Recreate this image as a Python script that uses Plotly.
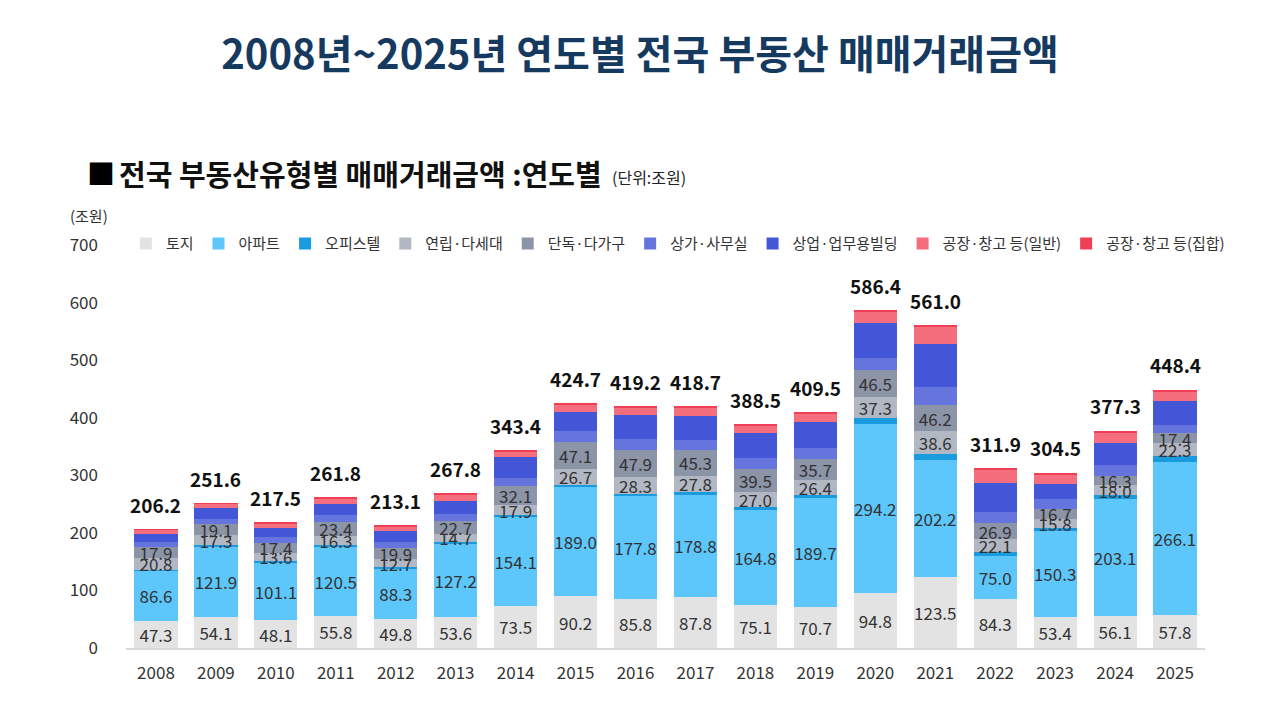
import plotly.graph_objects as go

years = [str(y) for y in range(2008, 2026)]

land = [47.3, 54.1, 48.1, 55.8, 49.8, 53.6, 73.5, 90.2, 85.8, 87.8, 75.1, 70.7, 94.8, 123.5, 84.3, 53.4, 56.1, 57.8]
apt = [86.6, 121.9, 101.1, 120.5, 88.3, 127.2, 154.1, 189.0, 177.8, 178.8, 164.8, 189.7, 294.2, 202.2, 75.0, 150.3, 203.1, 266.1]
officetel = [2.0, 2.5, 2.5, 2.8, 3.0, 3.0, 3.0, 4.6, 4.6, 4.6, 4.6, 5.5, 9.8, 12.0, 8.0, 5.0, 5.8, 9.3]
rowhouse = [20.8, 17.3, 13.6, 16.3, 12.7, 14.7, 17.9, 26.7, 28.3, 27.8, 27.0, 26.4, 37.3, 38.6, 22.1, 15.8, 18.0, 22.3]
detached = [17.9, 19.1, 17.4, 23.4, 19.9, 22.7, 32.1, 47.1, 47.9, 45.3, 39.5, 35.7, 46.5, 46.2, 26.9, 16.7, 16.3, 17.4]
shop = [10.0, 10.0, 10.0, 12.0, 11.0, 12.0, 15.0, 19.0, 18.5, 17.0, 19.5, 20.0, 20.5, 30.0, 20.8, 17.0, 18.5, 15.0]
building = [14.0, 18.0, 16.0, 20.0, 18.5, 22.0, 36.0, 34.0, 41.0, 42.0, 43.0, 45.0, 61.0, 76.0, 49.0, 26.0, 39.0, 40.5]
factory_gen = [6.5, 7.5, 7.5, 9.5, 8.5, 11.0, 10.0, 12.5, 13.5, 13.6, 13.2, 14.5, 20.0, 30.0, 23.5, 18.0, 18.0, 17.5]
factory_col = [1.1, 1.2, 1.3, 1.5, 1.4, 1.6, 1.8, 1.6, 1.8, 1.8, 1.8, 2.0, 2.3, 2.5, 2.3, 2.3, 2.5, 2.5]
totals = [206.2, 251.6, 217.5, 261.8, 213.1, 267.8, 343.4, 424.7, 419.2, 418.7, 388.5, 409.5, 586.4, 561.0, 311.9, 304.5, 377.3, 448.4]

series = [
    ("토지", land, "#e3e3e3", True),
    ("아파트", apt, "#5dc6fa", True),
    ("오피스텔", officetel, "#1a9be0", False),
    ("연립·다세대", rowhouse, "#b2b8c3", True),
    ("단독·다가구", detached, "#8c94a7", True),
    ("상가·사무실", shop, "#6675de", False),
    ("상업·업무용빌딩", building, "#4456d8", False),
    ("공장·창고 등(일반)", factory_gen, "#f56e7e", False),
    ("공장·창고 등(집합)", factory_col, "#ef3e55", False),
]

FONT = "Noto Sans CJK KR"
W, H = 1280, 720
OFF = 8  # page offset of the figure in the browser
L, R, T, B = 117.5, 83, 237, 80
PW = W - L - R
PH = H - T - B


def px(sx):
    return (sx - OFF - L) / PW


def py(sy):
    return (H - B - (sy - OFF)) / PH


fig = go.Figure()
for name, vals, color, lab in series:
    fig.add_trace(go.Bar(
        x=years, y=vals, name=name,
        marker=dict(color=color, line=dict(width=0)),
        text=[f"{v:.1f}" for v in vals] if lab else None,
        textposition="inside" if lab else "none",
        insidetextanchor="middle",
        textangle=0,
        textfont=dict(family=FONT, size=17, color="#333333"),
        hoverinfo="skip",
    ))

annotations = []
for i, tot in enumerate(totals):
    annotations.append(dict(x=i, y=tot, xref="x", yref="y", text=f"<b>{tot:.1f}</b>",
                            showarrow=False, yshift=25,
                            font=dict(family=FONT, size=19, color="#111111")))

annotations += [
    dict(x=px(100), y=py(173), xref="paper", yref="paper", text="■", showarrow=False,
         xanchor="center", yanchor="middle", font=dict(family=FONT, size=28, color="#000000")),
    dict(x=px(116), y=py(173), xref="paper", yref="paper",
         text="<b>전국 부동산유형별 매매거래금액 :연도별</b>", showarrow=False,
         xanchor="left", yanchor="middle", font=dict(family=FONT, size=29, color="#111111")),
    dict(x=px(610), y=py(177), xref="paper", yref="paper", text="(단위:조원)", showarrow=False,
         xanchor="left", yanchor="middle", font=dict(family=FONT, size=16, color="#222222")),
    dict(x=px(67), y=py(215), xref="paper", yref="paper", text="(조원)", showarrow=False,
         xanchor="left", yanchor="middle", font=dict(family=FONT, size=15, color="#333333")),
]

fig.update_layout(
    width=W, height=H,
    barmode="stack", bargap=0.28,
    paper_bgcolor="white", plot_bgcolor="white",
    margin=dict(l=L, r=R, t=T, b=B, autoexpand=False),
    font=dict(family=FONT, color="#333333"),
    title=dict(text="<b>2008년~2025년 연도별 전국 부동산 매매거래금액</b>",
               x=0.5 - OFF / W, xref="container", xanchor="center",
               y=1 - (55 - OFF) / H, yref="container", yanchor="middle",
               font=dict(family=FONT, size=40, color="#163a5f")),
    uniformtext=dict(minsize=17, mode="show"),
    legend=dict(orientation="h", x=-0.0001, xanchor="left",
                y=py(245) + 0.003, yanchor="middle",
                traceorder="normal", font=dict(family=FONT, size=15, color="#333333"),
                itemwidth=30, bgcolor="rgba(0,0,0,0)"),
    xaxis=dict(type="category", showgrid=False, showline=True, linecolor="#d9d9d9", linewidth=2,
               ticks="", ticklabelstandoff=9, tickfont=dict(family=FONT, size=17, color="#333333")),
    yaxis=dict(range=[0, 700], dtick=100, showgrid=False, zeroline=False, showline=False,
               ticks="", ticklabelstandoff=27,
               tickfont=dict(family=FONT, size=17, color="#333333")),
    annotations=annotations,
)

fig.write_html("out.html")
